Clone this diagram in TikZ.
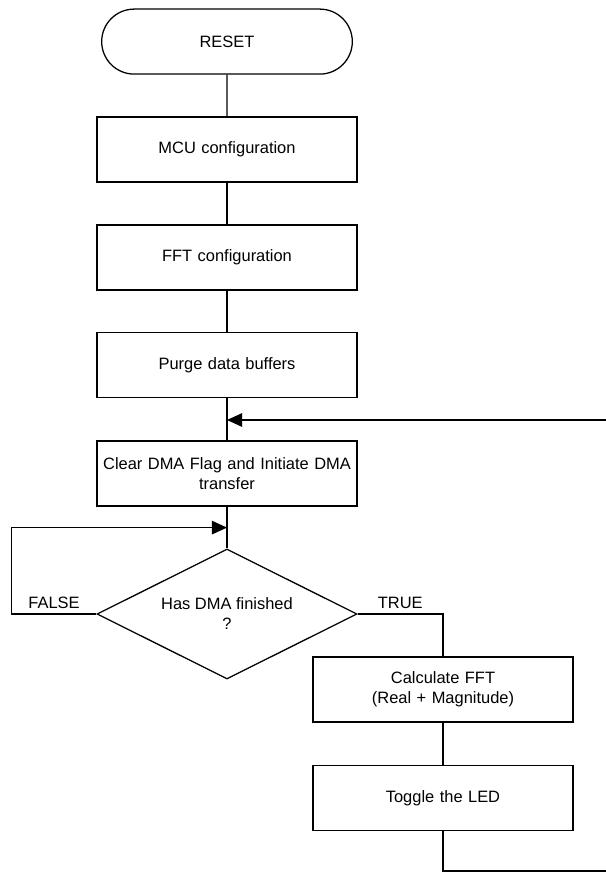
\documentclass[tikz,border=0pt]{standalone}
\usepackage{fontspec}
\setmainfont{Liberation Sans}
\usepackage{tikz}
\usetikzlibrary{arrows.meta,positioning,calc,shapes.misc,shapes.geometric}
\tikzset{proc/.style={draw, line width=0.9pt, align=center, inner sep=0.1cm, text width=6.3cm, minimum height=1.625cm},
         term/.style={draw, line width=0.9pt, rounded rectangle, align=center, minimum width=6.5cm, minimum height=1.625cm},
         dec/.style={draw, line width=0.9pt, diamond, aspect=2, align=center, inner sep=0pt, minimum width=6.5cm, minimum height=3.25cm},
         ln/.style={line width=0.9pt},
         arr/.style={-{Triangle[length=0.38cm, width=0.34cm]}, line width=0.9pt}}

\begin{document}
\begin{tikzpicture}[x=1cm,y=1cm, font=\fontsize{11.7pt}{14.2pt}\selectfont]
\useasboundingbox (0,0) rectangle (15.125,-21.825);
% main column
\node[term] (reset) at (5.675,-1.04) {RESET};
\node[proc] (mcu) at (5.675,-3.74) {MCU configuration};
\node[proc] (fftcfg) at (5.675,-6.44) {FFT configuration};
\node[proc] (purge) at (5.675,-9.125) {Purge data buffers};
\node[proc] (cleardma) at (5.675,-11.84) {Clear DMA Flag and Initiate DMA\\transfer};
\node[dec] (done) at (5.675,-15.35) {Has DMA finished\\?};
% right column
\node[proc] (calcfft) at (11.075,-17.24) {Calculate FFT\\(Real + Magnitude)};
\node[proc] (toggle) at (11.075,-19.95) {Toggle the LED};
% joins
\coordinate (join) at (5.675,-10.5);
\coordinate (loopin) at (5.675,-13.19);
\draw[ln] (reset) -- (mcu);
\draw[ln] (mcu) -- (fftcfg);
\draw[ln] (fftcfg) -- (purge);
\draw[ln] (purge) -- (cleardma);
\draw[ln] (cleardma) -- (done);
\draw[ln] (calcfft) -- (toggle);
% false loop
\draw[arr] (done.west) -- node[above] {FALSE} (0.29,-15.35) |- (loopin);
% true branch
\draw[ln] (done.east) -- node[above] {TRUE} (calcfft.north |- done.east) -- (calcfft.north);
% back to the top
\draw[arr] (toggle.south) -- (11.075,-21.775) -- (15.6,-21.775) |- (join);
\end{tikzpicture}
\end{document}
